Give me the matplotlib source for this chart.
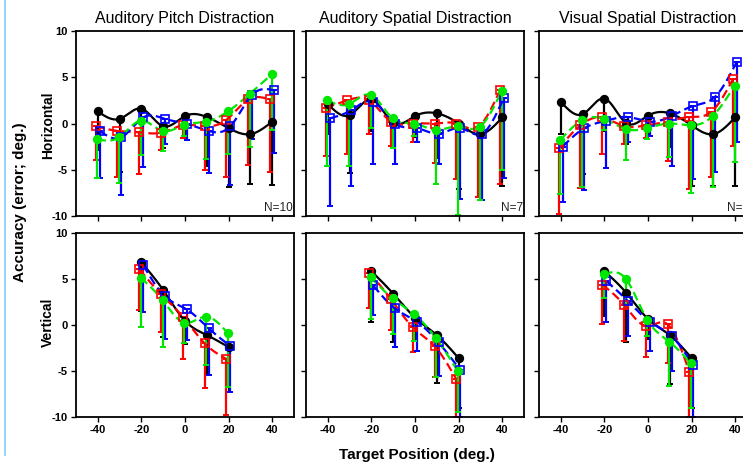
import numpy as np
import matplotlib
matplotlib.use('Agg')
import matplotlib.pyplot as plt
from matplotlib.lines import Line2D

plt.rcParams['font.family'] = ['Liberation Sans', 'DejaVu Sans']

titles = ['Auditory Pitch Distraction', 'Auditory Spatial Distraction', 'Visual Spatial Distraction']
n_labels = ['N=10', 'N=7', 'N=10']
row_labels = ['Horizontal', 'Vertical']
series = ['black', 'red', 'blue', 'green']

x_h = [-40, -30, -20, -10, 0, 10, 20, 30, 40]
x_v = [-20, -10, 0, 10, 20]

# horizontal: means and lower end of the error bars, per panel
h_mean = [
    {'black': [1.3, 0.5, 1.6, -0.3, 0.8, 0.7, -0.5, -1.15, 0.2],
     'red':   [-0.3, -0.8, -0.95, -1.0, -0.2, -0.3, 0.4, 2.6, 2.6],
     'blue':  [-0.8, -1.5, 0.65, 0.5, -0.05, -0.8, -0.3, 3.1, 3.6],
     'green': [-1.7, -1.5, 0.3, -0.8, -0.15, 0.2, 1.3, 3.2, 5.3]},
    {'black': [2.1, 0.9, 2.6, 0.1, 0.8, 1.1, 0.0, -1.15, 0.65],
     'red':   [1.7, 2.5, 2.5, 0.2, 0.0, 0.0, 0.0, -0.35, 3.6],
     'blue':  [0.55, 1.45, 2.35, 0.0, -0.5, -1.1, -0.5, -1.1, 2.8],
     'green': [2.5, 2.1, 3.1, 0.55, 0.0, -0.7, -0.3, -0.35, 3.5]},
    {'black': [2.35, 1.0, 2.7, 0.05, 0.85, 1.1, -0.2, -1.15, 0.67],
     'red':   [-2.7, -0.2, 0.65, -0.3, -0.2, 0.2, 0.7, 1.25, 4.8],
     'blue':  [-2.5, -0.5, 0.3, 0.7, 0.2, 0.8, 1.9, 2.9, 6.7],
     'green': [-1.8, 0.35, 0.5, -0.6, -0.5, 0.0, -0.2, 0.8, 4.1]},
]
h_low = [
    {'black': [-2.9, -5.2, -1.8, -2.6, -1.6, -4.6, -6.9, -6.5, -6.6],
     'red':   [-3.9, -5.8, -5.5, -2.9, -1.6, -5.0, -5.8, -4.5, -5.2],
     'blue':  [-5.9, -7.7, -4.7, -2.2, -1.8, -5.4, -6.7, -1.7, -3.2],
     'green': [-5.9, -6.4, -3.4, -3.0, -1.3, -3.8, -3.3, -2.5, -0.7]},
    {'black': [-1.1, -5.4, -0.8, -2.0, -1.5, -3.7, -7.1, -6.8, -6.8],
     'red':   [-3.5, -3.3, -1.1, -2.4, -2.0, -4.3, -6.0, -7.9, -6.5],
     'blue':  [-8.9, -6.8, -4.4, -4.4, -2.05, -4.4, -8.2, -8.3, -5.9],
     'green': [-4.6, -4.6, -0.5, -2.7, -1.35, -6.5, -9.9, -8.3, -5.0]},
    {'black': [-1.1, -5.5, -0.8, -2.2, -1.2, -2.5, -6.8, -6.8, -6.8],
     'red':   [-9.8, -7.0, -3.3, -2.2, -1.6, -4.1, -7.1, -5.75, -2.4],
     'blue':  [-8.5, -7.2, -4.8, -2.0, -1.35, -4.6, -6.0, -5.2, -2.0],
     'green': [-7.6, -6.9, -0.7, -3.9, -1.7, -3.65, -7.5, -6.9, -4.2]},
]

# vertical
v_mean = [
    {'black': [6.8, 3.8, 0.45, -1.1, -2.4],
     'red':   [6.05, 3.35, 0.9, -2.0, -3.7],
     'blue':  [6.5, 3.1, 1.7, -0.35, -2.3],
     'green': [5.15, 2.7, 0.25, 0.9, -0.9]},
    {'black': [5.85, 3.4, 0.8, -1.1, -3.6],
     'red':   [5.7, 2.8, -0.25, -2.3, -5.9],
     'blue':  [4.3, 1.8, 0.36, -1.9, -4.9],
     'green': [5.2, 2.9, 1.15, -1.45, -5.05]},
    {'black': [5.85, 3.5, 0.65, -1.1, -3.6],
     'red':   [4.4, 2.2, -0.1, 0.07, -5.1],
     'blue':  [4.8, 2.6, 0.36, -1.2, -4.4],
     'green': [5.5, 5.05, 0.55, -1.8, -4.15]},
]
v_low = [
    {'black': [1.5, -1.3, -2.1, -5.4, -7.3],
     'red':   [1.6, -0.8, -3.7, -6.9, -9.75],
     'blue':  [1.4, -1.5, -1.6, -5.4, -7.3],
     'green': [-0.2, -2.35, -2.0, -4.4, -6.75]},
    {'black': [0.36, -1.8, -1.5, -6.3, -9.0],
     'red':   [1.9, -0.5, -2.9, -5.7, -10.0],
     'blue':  [1.1, -2.35, -2.8, -5.5, -10.0],
     'green': [0.65, -1.0, -1.7, -5.7, -9.45]},
    {'black': [1.0, -1.8, -1.5, -6.4, -9.0],
     'red':   [0.07, -1.7, -3.5, -4.15, -10.0],
     'blue':  [0.36, -1.2, -2.8, -5.05, -10.0],
     'green': [2.9, 2.1, -1.2, -6.6, -9.0]},
]

style = {
    'black': dict(color='black', ls='-', marker='o', mfc='black', offset=0.0),
    'red':   dict(color='#ff0000', ls=(0, (4, 2)), marker='s', mfc='none', offset=-1.0),
    'blue':  dict(color='#0000ff', ls=(0, (4, 2)), marker='s', mfc='none', offset=0.8),
    'green': dict(color='#00e800', ls=(0, (4, 2)), marker='o', mfc='#00e800', offset=-0.3),
}


def smooth(x, y, n=300):
    # natural cubic spline through the points, for the connecting curve
    x = np.asarray(x, float)
    y = np.asarray(y, float)
    h = np.diff(x)
    m = len(x)
    A = np.zeros((m, m))
    b = np.zeros(m)
    A[0, 0] = A[-1, -1] = 1
    for i in range(1, m - 1):
        A[i, i - 1] = h[i - 1]
        A[i, i] = 2 * (h[i - 1] + h[i])
        A[i, i + 1] = h[i]
        b[i] = 3 * ((y[i + 1] - y[i]) / h[i] - (y[i] - y[i - 1]) / h[i - 1])
    c = np.linalg.solve(A, b)
    bb = (y[1:] - y[:-1]) / h - h * (2 * c[:-1] + c[1:]) / 3
    d = (c[1:] - c[:-1]) / (3 * h)
    xs = np.linspace(x[0], x[-1], n)
    idx = np.clip(np.searchsorted(x, xs) - 1, 0, m - 2)
    t = xs - x[idx]
    ys = y[idx] + bb[idx] * t + c[idx] * t ** 2 + d[idx] * t ** 3
    return xs, ys


fig = plt.figure(figsize=(7.43, 4.66), dpi=100, facecolor='white')

W, H = 743.0, 466.0
col_left = [76, 306, 539]
col_w = 218
rows = [(31, 216), (233, 417)]
row_label_y = [125, 322]

for r, (top, bot) in enumerate(rows):
    for c in range(3):
        ax = fig.add_axes([col_left[c] / W, (H - bot) / H, col_w / W, (bot - top) / H])
        if r == 0:
            xs, means, lows = x_h, h_mean[c], h_low[c]
        else:
            xs, means, lows = x_v, v_mean[c], v_low[c]
        for s in series:
            st = style[s]
            xx = np.array(xs, float) + st['offset']
            yy = np.array(means[s])
            lo = np.array(lows[s])
            ax.errorbar(xx, yy, yerr=[yy - lo, np.zeros_like(yy)], fmt='none',
                        ecolor=st['color'], elinewidth=1.6, capsize=2.5, capthick=1.4, zorder=2)
            sx, sy = smooth(xx, yy)
            ax.plot(sx, sy, color=st['color'], ls=st['ls'], lw=1.6, zorder=3)
            ax.plot(xx, yy, ls='none', marker=st['marker'], ms=5.5 if st['marker'] == 'o' else 6,
                    mfc=st['mfc'], mec=st['color'], mew=1.2, zorder=4)
        ax.set_xlim(-50, 50)
        ax.set_ylim(-10, 10)
        ax.set_xticks([-40, -20, 0, 20, 40])
        ax.set_yticks([-10, -5, 0, 5, 10])
        ax.tick_params(direction='out', length=3.5, width=1, top=False, right=False, pad=2.5)
        for sp in ax.spines.values():
            sp.set_linewidth(1.3)
        if c == 0:
            ax.set_yticklabels(['-10', '-5', '0', '5', '10'], fontsize=8, fontweight='bold')
        else:
            ax.set_yticklabels([])
        if r == 1:
            ax.set_xticklabels(['-40', '-20', '0', '20', '40'], fontsize=8, fontweight='bold')
        else:
            ax.set_xticklabels([])
            ax.set_title(titles[c], fontsize=11.5, pad=6)
            ax.text(0.995, 0.012, n_labels[c], transform=ax.transAxes, ha='right', va='bottom',
                    fontsize=8.5, color='#222222')
    fig.text(48 / W, 1 - row_label_y[r] / H, row_labels[r], rotation=90, ha='center', va='center',
             fontsize=10, fontweight='bold')

fig.text(20 / W, 1 - 202 / H, 'Accuracy (error; deg.)', rotation=90, ha='center', va='center',
         fontsize=11, fontweight='bold')
fig.text(417 / W, 1 - 455 / H, 'Target Position (deg.)', ha='center', va='center',
         fontsize=11, fontweight='bold')
fig.add_artist(Line2D([5 / W, 5 / W], [1.0, 1 - 455 / H], color='#80ccf5', lw=1.2))

fig.savefig('out.png', dpi=100)
